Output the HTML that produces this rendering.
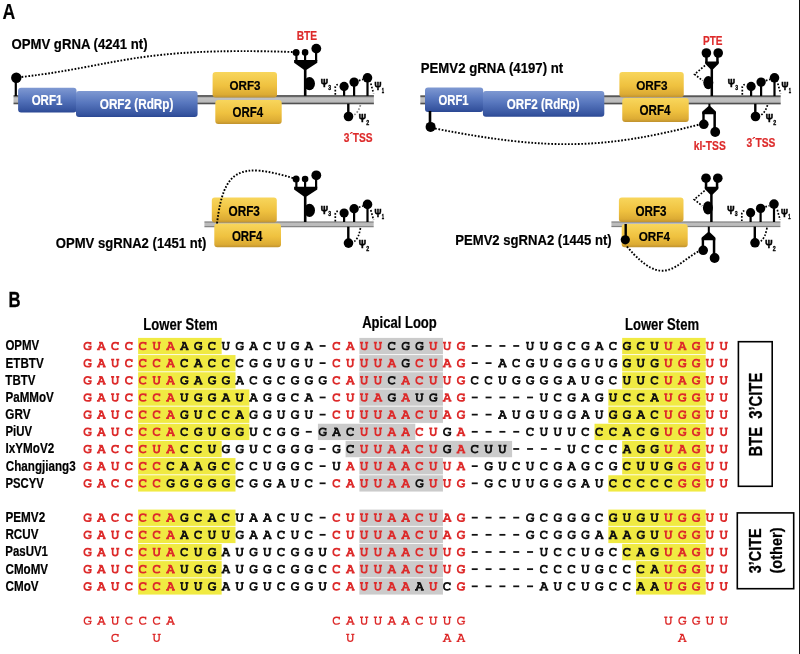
<!DOCTYPE html>
<html><head><meta charset="utf-8"><style>
html,body{margin:0;padding:0;background:#fff;width:800px;height:654px;overflow:hidden}
svg{display:block;will-change:transform}
.t{font-family:"Liberation Sans",sans-serif;font-weight:bold}
.p{font-family:"Liberation Sans",sans-serif;font-weight:bold}
.sq{font-family:"Liberation Mono",monospace;font-weight:bold;font-size:12.00px;text-anchor:middle;stroke-width:0.000px}
</style></head><body>
<svg width="800" height="654" viewBox="0 0 800 654">
<defs>
<path id="gU" d="M-4.1,-7.67H-1.0M-2.5,-7.67V-3.0C-2.5,-1.4 -1.5,-0.72 0,-0.72C1.5,-0.72 2.5,-1.4 2.5,-3.0V-7.67M1.0,-7.67H4.1" fill="none"/>
<path id="gC" d="M2.85,-8.1V-5.4M2.85,-6.9C2.1,-7.45 1.2,-7.67 0.2,-7.67C-1.9,-7.67 -3.17,-6.0 -3.17,-4.2C-3.17,-2.2 -1.8,-0.72 0.3,-0.72C1.4,-0.72 2.4,-1.0 3.3,-1.9" fill="none"/>
<path id="gG" d="M3.0,-8.1V-5.5M3.0,-6.9C2.2,-7.45 1.2,-7.67 0.1,-7.67C-2.1,-7.67 -3.2,-6.0 -3.2,-4.2C-3.2,-2.2 -1.9,-0.72 0.3,-0.72C1.5,-0.72 2.4,-0.95 3.0,-1.4V-3.5M0.7,-3.5H4.2" fill="none"/>
<path id="gA" d="M-2.3,-7.67H0.5M-0.1,-7.67L-3.0,-0.72M0.45,-8.1L3.2,-0.72M-2.0,-2.9H2.1M-4.4,-0.72H-1.5M1.5,-0.72H4.4" fill="none"/>
<path id="gD" d="M-3.0,-4.25H3.0" fill="none"/>
<linearGradient id="gb" x1="0" y1="0" x2="0" y2="1"><stop offset="0" stop-color="#7f99d2"/><stop offset="0.45" stop-color="#5877be"/><stop offset="0.9" stop-color="#36549f"/><stop offset="1" stop-color="#2a4793"/></linearGradient>
<linearGradient id="gy" x1="0" y1="0" x2="0" y2="1"><stop offset="0" stop-color="#f8d65c"/><stop offset="0.55" stop-color="#efc13f"/><stop offset="0.88" stop-color="#dcab34"/><stop offset="1" stop-color="#c0922e"/></linearGradient>
<linearGradient id="gk" x1="0" y1="0" x2="0" y2="1"><stop offset="0" stop-color="#555"/><stop offset="0.12" stop-color="#4e4e4e"/><stop offset="0.24" stop-color="#a9a9a9"/><stop offset="0.36" stop-color="#c1c1c1"/><stop offset="0.7" stop-color="#bbb"/><stop offset="0.8" stop-color="#999"/><stop offset="0.9" stop-color="#505050"/><stop offset="1" stop-color="#5a5a5a"/></linearGradient>
<linearGradient id="gk2" x1="0" y1="0" x2="0" y2="1"><stop offset="0" stop-color="#666"/><stop offset="0.3" stop-color="#bcbcbc"/><stop offset="0.7" stop-color="#bcbcbc"/><stop offset="1" stop-color="#606060"/></linearGradient>
</defs>
<rect width="800" height="654" fill="#fff"/>
<text class="t" x="2.59" y="19.08" font-size="22.02" textLength="12.76" lengthAdjust="spacingAndGlyphs" fill="#000" stroke="#000" stroke-width="0.15">A</text>
<text class="t" x="11.46" y="49.00" font-size="15.33" textLength="136.19" lengthAdjust="spacingAndGlyphs" fill="#000" stroke="#000" stroke-width="0.20">OPMV gRNA (4241 nt)</text>
<path d="M21.5,77 C118.6,65.7 135.3,46.8 292.5,52" fill="none" stroke="#000" stroke-width="1.90" stroke-dasharray="1.7 1.65"/>
<rect x="13.50" y="95.10" width="360.40" height="9.20" fill="url(#gk)"/>
<rect x="14.70" y="80.00" width="2.20" height="16.00"/>
<circle cx="16.30" cy="77.80" r="5.20"/>
<rect x="18.10" y="87.75" width="58.40" height="24.75" rx="3" fill="url(#gb)"/>
<rect x="76.00" y="91.00" width="121.60" height="26.00" rx="3" fill="url(#gb)"/>
<rect x="212.60" y="72.00" width="64.40" height="25.60" rx="3" fill="url(#gy)"/>
<rect x="215.30" y="99.90" width="66.40" height="24.10" rx="3" fill="url(#gy)"/>
<text class="t" x="31.68" y="105.25" font-size="13.95" textLength="30.64" lengthAdjust="spacingAndGlyphs" fill="#fff" stroke="#fff" stroke-width="0.20">ORF1</text>
<text class="t" x="99.77" y="109.25" font-size="13.95" textLength="73.56" lengthAdjust="spacingAndGlyphs" fill="#fff" stroke="#fff" stroke-width="0.20">ORF2 (RdRp)</text>
<text class="t" x="229.47" y="89.85" font-size="13.37" textLength="31.00" lengthAdjust="spacingAndGlyphs" fill="#000" stroke="#000" stroke-width="0.20">ORF3</text>
<text class="t" x="232.48" y="116.75" font-size="13.95" textLength="30.63" lengthAdjust="spacingAndGlyphs" fill="#000" stroke="#000" stroke-width="0.20">ORF4</text>
<circle cx="296.10" cy="52.40" r="3.50"/>
<circle cx="305.10" cy="52.40" r="3.30"/>
<circle cx="316.30" cy="48.60" r="4.90"/>
<rect x="295.30" y="52.00" width="2.20" height="9.00"/>
<rect x="304.00" y="52.00" width="2.20" height="9.00"/>
<rect x="315.00" y="50.00" width="2.20" height="11.00"/>
<path d="M294.10,60.00 H317.30 V62.80 L306.60,69.80 H303.90 L294.10,62.80 Z"/>
<rect x="303.90" y="68.00" width="2.60" height="27.90"/>
<ellipse cx="309.50" cy="83.60" rx="5.5" ry="6.6"/>
<text class="t" x="296.67" y="39.85" font-size="13.23" textLength="20.38" lengthAdjust="spacingAndGlyphs" fill="#dd2a2a" stroke="#dd2a2a" stroke-width="0.20">BTE</text>
<rect x="343.00" y="86.40" width="2.20" height="9.50"/>
<circle cx="344.10" cy="86.40" r="4.60"/>
<rect x="353.00" y="82.10" width="2.20" height="13.80"/>
<circle cx="354.10" cy="82.10" r="4.70"/>
<rect x="366.40" y="77.80" width="2.20" height="18.10"/>
<circle cx="367.50" cy="77.80" r="4.80"/>
<path d="M335.30,94.80 V87.00 Q335.50,84.60 339.30,84.20" fill="none" stroke="#000" stroke-width="1.70" stroke-dasharray="1.7 1.65"/>
<path d="M358.80,80.60 L363.00,79.40" fill="none" stroke="#000" stroke-width="1.70" stroke-dasharray="1.7 1.65"/>
<path d="M370.80,83.50 L373.60,93.50" fill="none" stroke="#000" stroke-width="1.70" stroke-dasharray="1.7 1.65"/>
<rect x="347.10" y="103.70" width="2.40" height="12.30"/>
<circle cx="348.50" cy="116.50" r="4.80"/>
<path d="M354.30,114.90 Q358.80,111.50 360.50,104.80" fill="none" stroke="#8a8a8a" stroke-width="1.70" stroke-dasharray="1.7 1.65"/>
<text class="t" x="320.83" y="87.25" font-size="11.05" textLength="7.24" lengthAdjust="spacingAndGlyphs" fill="#000" stroke="#000" stroke-width="0.60">Ψ</text>
<text class="t" x="328.21" y="89.67" font-size="6.61" textLength="2.85" lengthAdjust="spacingAndGlyphs" fill="#000" stroke="#000" stroke-width="0.35">3</text>
<text class="t" x="374.55" y="90.35" font-size="11.34" textLength="6.90" lengthAdjust="spacingAndGlyphs" fill="#000" stroke="#000" stroke-width="0.60">Ψ</text>
<text class="t" x="381.86" y="92.58" font-size="6.32" textLength="2.33" lengthAdjust="spacingAndGlyphs" fill="#000" stroke="#000" stroke-width="0.35">1</text>
<text class="t" x="358.83" y="121.85" font-size="11.05" textLength="7.24" lengthAdjust="spacingAndGlyphs" fill="#000" stroke="#000" stroke-width="0.60">Ψ</text>
<text class="t" x="366.14" y="124.67" font-size="6.47" textLength="2.95" lengthAdjust="spacingAndGlyphs" fill="#000" stroke="#000" stroke-width="0.35">2</text>
<text class="t" x="343.77" y="141.85" font-size="12.65" textLength="28.88" lengthAdjust="spacingAndGlyphs" fill="#dd2a2a" stroke="#dd2a2a" stroke-width="0.20">3´TSS</text>
<text class="t" x="420.77" y="72.75" font-size="14.97" textLength="142.39" lengthAdjust="spacingAndGlyphs" fill="#000" stroke="#000" stroke-width="0.20">PEMV2 gRNA (4197) nt</text>
<rect x="420.30" y="95.30" width="360.40" height="9.10" fill="url(#gk)"/>
<rect x="425.00" y="87.50" width="58.20" height="24.40" rx="3" fill="url(#gb)"/>
<rect x="482.90" y="90.90" width="121.40" height="25.90" rx="3" fill="url(#gb)"/>
<rect x="619.40" y="71.90" width="64.35" height="25.35" rx="3" fill="url(#gy)"/>
<rect x="622.25" y="98.10" width="66.50" height="23.80" rx="3" fill="url(#gy)"/>
<text class="t" x="438.54" y="105.25" font-size="13.95" textLength="30.03" lengthAdjust="spacingAndGlyphs" fill="#fff" stroke="#fff" stroke-width="0.20">ORF1</text>
<text class="t" x="506.77" y="109.25" font-size="14.24" textLength="72.80" lengthAdjust="spacingAndGlyphs" fill="#fff" stroke="#fff" stroke-width="0.20">ORF2 (RdRp)</text>
<text class="t" x="636.17" y="89.85" font-size="13.66" textLength="31.31" lengthAdjust="spacingAndGlyphs" fill="#000" stroke="#000" stroke-width="0.20">ORF3</text>
<text class="t" x="639.47" y="114.75" font-size="14.10" textLength="31.04" lengthAdjust="spacingAndGlyphs" fill="#000" stroke="#000" stroke-width="0.20">ORF4</text>
<rect x="428.70" y="111.00" width="2.60" height="13.00"/>
<circle cx="430.60" cy="126.90" r="5.00"/>
<path d="M435,128.5 C550.2,151.2 605.2,148.7 699.5,124.5" fill="none" stroke="#000" stroke-width="1.90" stroke-dasharray="1.7 1.65"/>
<circle cx="706.40" cy="53.00" r="4.80"/>
<circle cx="718.20" cy="53.00" r="4.80"/>
<rect x="705.20" y="53.00" width="2.50" height="10.00"/>
<rect x="716.20" y="53.00" width="2.50" height="10.00"/>
<path d="M705.20,61.60 H718.70 V63.80 L713.10,69.20 H710.60 L705.20,63.80 Z"/>
<rect x="710.55" y="66.00" width="2.50" height="30.10"/>
<ellipse cx="708.30" cy="82.60" rx="5" ry="6.6"/>
<path d="M705.00,65.50 L694.60,74.30 L702.60,80.60" fill="none" stroke="#000" stroke-width="1.70" stroke-dasharray="1.7 1.65"/>
<text class="t" x="703.08" y="44.55" font-size="13.08" textLength="19.46" lengthAdjust="spacingAndGlyphs" fill="#dd2a2a" stroke="#dd2a2a" stroke-width="0.20">PTE</text>
<rect x="708.40" y="103.80" width="2.00" height="4.70"/>
<path d="M708.40,106.20 L710.40,106.20 L715.90,111.60 L715.90,114.20 L702.30,114.20 L702.30,111.60 Z"/>
<rect x="702.30" y="112.00" width="2.40" height="12.00"/>
<rect x="713.40" y="112.00" width="2.50" height="19.00"/>
<circle cx="703.80" cy="124.30" r="4.80"/>
<circle cx="715.20" cy="132.00" r="4.90"/>
<text class="t" x="693.78" y="149.75" font-size="12.35" textLength="31.97" lengthAdjust="spacingAndGlyphs" fill="#dd2a2a" stroke="#dd2a2a" stroke-width="0.20">kl-TSS</text>
<rect x="750.00" y="86.40" width="2.20" height="9.70"/>
<circle cx="751.10" cy="86.40" r="4.60"/>
<rect x="760.00" y="82.10" width="2.20" height="14.00"/>
<circle cx="761.10" cy="82.10" r="4.70"/>
<rect x="773.40" y="77.80" width="2.20" height="18.30"/>
<circle cx="774.50" cy="77.80" r="4.80"/>
<path d="M742.30,94.80 V87.00 Q742.50,84.60 746.30,84.20" fill="none" stroke="#000" stroke-width="1.70" stroke-dasharray="1.7 1.65"/>
<path d="M765.80,80.60 L770.00,79.40" fill="none" stroke="#000" stroke-width="1.70" stroke-dasharray="1.7 1.65"/>
<path d="M777.80,83.50 L780.60,93.50" fill="none" stroke="#000" stroke-width="1.70" stroke-dasharray="1.7 1.65"/>
<rect x="754.10" y="103.80" width="2.40" height="12.20"/>
<circle cx="755.50" cy="116.50" r="4.80"/>
<path d="M761.30,114.90 Q765.80,111.50 767.50,104.90" fill="none" stroke="#000" stroke-width="1.70" stroke-dasharray="1.7 1.65"/>
<text class="t" x="727.83" y="87.25" font-size="11.05" textLength="7.24" lengthAdjust="spacingAndGlyphs" fill="#000" stroke="#000" stroke-width="0.60">Ψ</text>
<text class="t" x="735.21" y="89.67" font-size="6.61" textLength="2.85" lengthAdjust="spacingAndGlyphs" fill="#000" stroke="#000" stroke-width="0.35">3</text>
<text class="t" x="781.55" y="90.35" font-size="11.34" textLength="6.90" lengthAdjust="spacingAndGlyphs" fill="#000" stroke="#000" stroke-width="0.60">Ψ</text>
<text class="t" x="788.86" y="92.58" font-size="6.32" textLength="2.33" lengthAdjust="spacingAndGlyphs" fill="#000" stroke="#000" stroke-width="0.35">1</text>
<text class="t" x="765.83" y="121.85" font-size="11.05" textLength="7.24" lengthAdjust="spacingAndGlyphs" fill="#000" stroke="#000" stroke-width="0.60">Ψ</text>
<text class="t" x="773.14" y="124.67" font-size="6.47" textLength="2.95" lengthAdjust="spacingAndGlyphs" fill="#000" stroke="#000" stroke-width="0.35">2</text>
<text class="t" x="746.42" y="146.75" font-size="13.52" textLength="28.98" lengthAdjust="spacingAndGlyphs" fill="#dd2a2a" stroke="#dd2a2a" stroke-width="0.20">3´TSS</text>
<text class="t" x="55.71" y="248.15" font-size="15.55" textLength="150.69" lengthAdjust="spacingAndGlyphs" fill="#000" stroke="#000" stroke-width="0.20">OPMV sgRNA2 (1451 nt)</text>
<rect x="204.40" y="221.50" width="169.30" height="5.70" fill="url(#gk2)"/>
<rect x="211.80" y="197.40" width="65.00" height="25.20" rx="3" fill="url(#gy)"/>
<rect x="214.30" y="223.50" width="66.70" height="23.80" rx="3" fill="url(#gy)"/>
<text class="t" x="228.47" y="215.55" font-size="13.81" textLength="31.41" lengthAdjust="spacingAndGlyphs" fill="#000" stroke="#000" stroke-width="0.20">ORF3</text>
<text class="t" x="231.88" y="240.75" font-size="14.39" textLength="30.63" lengthAdjust="spacingAndGlyphs" fill="#000" stroke="#000" stroke-width="0.20">ORF4</text>
<path d="M217,223.5 C223.5,168.5 239.7,161.9 294.5,178.5" fill="none" stroke="#000" stroke-width="1.90" stroke-dasharray="1.7 1.65"/>
<circle cx="296.10" cy="179.10" r="3.50"/>
<circle cx="305.10" cy="179.10" r="3.30"/>
<circle cx="316.30" cy="175.30" r="4.90"/>
<rect x="295.30" y="178.70" width="2.20" height="9.00"/>
<rect x="304.00" y="178.70" width="2.20" height="9.00"/>
<rect x="315.00" y="176.70" width="2.20" height="11.00"/>
<path d="M294.10,186.70 H317.30 V189.50 L306.60,196.50 H303.90 L294.10,189.50 Z"/>
<rect x="303.90" y="194.70" width="2.60" height="27.30"/>
<ellipse cx="309.50" cy="210.30" rx="5.5" ry="6.6"/>
<rect x="343.00" y="213.00" width="2.20" height="9.00"/>
<circle cx="344.10" cy="213.00" r="4.60"/>
<rect x="353.00" y="208.70" width="2.20" height="13.30"/>
<circle cx="354.10" cy="208.70" r="4.70"/>
<rect x="366.40" y="204.40" width="2.20" height="17.60"/>
<circle cx="367.50" cy="204.40" r="4.80"/>
<path d="M335.30,221.40 V213.60 Q335.50,211.20 339.30,210.80" fill="none" stroke="#000" stroke-width="1.70" stroke-dasharray="1.7 1.65"/>
<path d="M358.80,207.20 L363.00,206.00" fill="none" stroke="#000" stroke-width="1.70" stroke-dasharray="1.7 1.65"/>
<path d="M370.80,210.10 L373.60,220.10" fill="none" stroke="#000" stroke-width="1.70" stroke-dasharray="1.7 1.65"/>
<rect x="347.10" y="226.70" width="2.40" height="15.90"/>
<circle cx="348.50" cy="243.10" r="4.80"/>
<path d="M354.30,241.50 Q358.80,238.10 360.50,227.80" fill="none" stroke="#000" stroke-width="1.70" stroke-dasharray="1.7 1.65"/>
<text class="t" x="320.83" y="213.85" font-size="11.05" textLength="7.24" lengthAdjust="spacingAndGlyphs" fill="#000" stroke="#000" stroke-width="0.60">Ψ</text>
<text class="t" x="328.21" y="216.27" font-size="6.61" textLength="2.85" lengthAdjust="spacingAndGlyphs" fill="#000" stroke="#000" stroke-width="0.35">3</text>
<text class="t" x="374.55" y="216.95" font-size="11.34" textLength="6.90" lengthAdjust="spacingAndGlyphs" fill="#000" stroke="#000" stroke-width="0.60">Ψ</text>
<text class="t" x="381.86" y="219.17" font-size="6.32" textLength="2.33" lengthAdjust="spacingAndGlyphs" fill="#000" stroke="#000" stroke-width="0.35">1</text>
<text class="t" x="358.83" y="248.45" font-size="11.05" textLength="7.24" lengthAdjust="spacingAndGlyphs" fill="#000" stroke="#000" stroke-width="0.60">Ψ</text>
<text class="t" x="366.14" y="251.27" font-size="6.47" textLength="2.95" lengthAdjust="spacingAndGlyphs" fill="#000" stroke="#000" stroke-width="0.35">2</text>
<text class="t" x="455.27" y="244.95" font-size="15.41" textLength="156.38" lengthAdjust="spacingAndGlyphs" fill="#000" stroke="#000" stroke-width="0.20">PEMV2 sgRNA2 (1445 nt)</text>
<rect x="611.40" y="221.50" width="169.00" height="5.60" fill="url(#gk2)"/>
<rect x="618.90" y="197.60" width="64.60" height="24.40" rx="3" fill="url(#gy)"/>
<rect x="621.70" y="223.90" width="66.00" height="23.30" rx="3" fill="url(#gy)"/>
<text class="t" x="635.57" y="215.75" font-size="13.81" textLength="31.00" lengthAdjust="spacingAndGlyphs" fill="#000" stroke="#000" stroke-width="0.20">ORF3</text>
<text class="t" x="638.67" y="240.75" font-size="13.52" textLength="31.24" lengthAdjust="spacingAndGlyphs" fill="#000" stroke="#000" stroke-width="0.20">ORF4</text>
<rect x="624.50" y="224.00" width="2.40" height="14.00"/>
<circle cx="625.30" cy="239.80" r="4.60"/>
<path d="M626.9,246.5 C664.3,290.7 675.1,263.4 700,250.5" fill="none" stroke="#000" stroke-width="1.90" stroke-dasharray="1.7 1.65"/>
<circle cx="706.00" cy="178.20" r="4.80"/>
<circle cx="717.80" cy="178.20" r="4.80"/>
<rect x="704.80" y="178.20" width="2.50" height="10.00"/>
<rect x="715.80" y="178.20" width="2.50" height="10.00"/>
<path d="M704.80,186.80 H718.30 V189.00 L712.70,194.40 H710.20 L704.80,189.00 Z"/>
<rect x="710.15" y="191.20" width="2.50" height="30.80"/>
<ellipse cx="707.90" cy="207.80" rx="5" ry="6.6"/>
<path d="M704.60,190.70 L694.20,199.50 L702.20,205.80" fill="none" stroke="#000" stroke-width="1.70" stroke-dasharray="1.7 1.65"/>
<rect x="707.80" y="226.60" width="2.00" height="7.90"/>
<path d="M707.80,232.20 L709.80,232.20 L715.30,237.60 L715.30,240.20 L701.70,240.20 L701.70,237.60 Z"/>
<rect x="701.70" y="238.00" width="2.40" height="12.00"/>
<rect x="712.80" y="238.00" width="2.50" height="19.00"/>
<circle cx="703.20" cy="250.30" r="4.80"/>
<circle cx="714.60" cy="258.00" r="4.90"/>
<rect x="749.50" y="212.70" width="2.20" height="9.30"/>
<circle cx="750.60" cy="212.70" r="4.60"/>
<rect x="759.50" y="208.40" width="2.20" height="13.60"/>
<circle cx="760.60" cy="208.40" r="4.70"/>
<rect x="772.90" y="204.10" width="2.20" height="17.90"/>
<circle cx="774.00" cy="204.10" r="4.80"/>
<path d="M741.80,221.10 V213.30 Q742.00,210.90 745.80,210.50" fill="none" stroke="#000" stroke-width="1.70" stroke-dasharray="1.7 1.65"/>
<path d="M765.30,206.90 L769.50,205.70" fill="none" stroke="#000" stroke-width="1.70" stroke-dasharray="1.7 1.65"/>
<path d="M777.30,209.80 L780.10,219.80" fill="none" stroke="#000" stroke-width="1.70" stroke-dasharray="1.7 1.65"/>
<rect x="753.60" y="226.60" width="2.40" height="15.70"/>
<circle cx="755.00" cy="242.80" r="4.80"/>
<path d="M760.80,241.20 Q765.30,237.80 767.00,227.70" fill="none" stroke="#000" stroke-width="1.70" stroke-dasharray="1.7 1.65"/>
<text class="t" x="727.33" y="213.55" font-size="11.05" textLength="7.24" lengthAdjust="spacingAndGlyphs" fill="#000" stroke="#000" stroke-width="0.60">Ψ</text>
<text class="t" x="734.71" y="215.97" font-size="6.61" textLength="2.85" lengthAdjust="spacingAndGlyphs" fill="#000" stroke="#000" stroke-width="0.35">3</text>
<text class="t" x="781.05" y="216.65" font-size="11.34" textLength="6.90" lengthAdjust="spacingAndGlyphs" fill="#000" stroke="#000" stroke-width="0.60">Ψ</text>
<text class="t" x="788.36" y="218.87" font-size="6.32" textLength="2.33" lengthAdjust="spacingAndGlyphs" fill="#000" stroke="#000" stroke-width="0.35">1</text>
<text class="t" x="765.33" y="248.15" font-size="11.05" textLength="7.24" lengthAdjust="spacingAndGlyphs" fill="#000" stroke="#000" stroke-width="0.60">Ψ</text>
<text class="t" x="772.64" y="250.97" font-size="6.47" textLength="2.95" lengthAdjust="spacingAndGlyphs" fill="#000" stroke="#000" stroke-width="0.35">2</text>
<text class="t" x="8.38" y="306.60" font-size="21.51" textLength="12.08" lengthAdjust="spacingAndGlyphs" fill="#000" stroke="#000" stroke-width="0.30">B</text>
<rect x="138.12" y="337.90" width="83.55" height="16.30" fill="#f0ea42"/>
<rect x="359.40" y="337.90" width="83.55" height="16.30" fill="#cbcbcb"/>
<rect x="622.17" y="337.90" width="83.55" height="16.30" fill="#f0ea42"/>
<rect x="138.12" y="355.07" width="97.38" height="16.30" fill="#f0ea42"/>
<rect x="359.40" y="355.07" width="83.55" height="16.30" fill="#cbcbcb"/>
<rect x="622.17" y="355.07" width="83.55" height="16.30" fill="#f0ea42"/>
<rect x="138.12" y="372.24" width="97.38" height="16.30" fill="#f0ea42"/>
<rect x="359.40" y="372.24" width="83.55" height="16.30" fill="#cbcbcb"/>
<rect x="622.17" y="372.24" width="83.55" height="16.30" fill="#f0ea42"/>
<rect x="138.12" y="389.41" width="111.21" height="16.30" fill="#f0ea42"/>
<rect x="359.40" y="389.41" width="83.55" height="16.30" fill="#cbcbcb"/>
<rect x="608.34" y="389.41" width="97.38" height="16.30" fill="#f0ea42"/>
<rect x="138.12" y="406.58" width="111.21" height="16.30" fill="#f0ea42"/>
<rect x="359.40" y="406.58" width="83.55" height="16.30" fill="#cbcbcb"/>
<rect x="608.34" y="406.58" width="97.38" height="16.30" fill="#f0ea42"/>
<rect x="138.12" y="423.75" width="111.21" height="16.30" fill="#f0ea42"/>
<rect x="317.91" y="423.75" width="97.38" height="16.30" fill="#cbcbcb"/>
<rect x="594.51" y="423.75" width="111.21" height="16.30" fill="#f0ea42"/>
<rect x="138.12" y="440.92" width="83.55" height="16.30" fill="#f0ea42"/>
<rect x="345.57" y="440.92" width="166.53" height="16.30" fill="#cbcbcb"/>
<rect x="622.17" y="440.92" width="83.55" height="16.30" fill="#f0ea42"/>
<rect x="138.12" y="458.09" width="97.38" height="16.30" fill="#f0ea42"/>
<rect x="359.40" y="458.09" width="83.55" height="16.30" fill="#cbcbcb"/>
<rect x="622.17" y="458.09" width="83.55" height="16.30" fill="#f0ea42"/>
<rect x="138.12" y="475.26" width="97.38" height="16.30" fill="#f0ea42"/>
<rect x="359.40" y="475.26" width="83.55" height="16.30" fill="#cbcbcb"/>
<rect x="608.34" y="475.26" width="97.38" height="16.30" fill="#f0ea42"/>
<rect x="138.12" y="509.60" width="97.38" height="16.30" fill="#f0ea42"/>
<rect x="359.40" y="509.60" width="83.55" height="16.30" fill="#cbcbcb"/>
<rect x="608.34" y="509.60" width="97.38" height="16.30" fill="#f0ea42"/>
<rect x="138.12" y="526.77" width="97.38" height="16.30" fill="#f0ea42"/>
<rect x="359.40" y="526.77" width="83.55" height="16.30" fill="#cbcbcb"/>
<rect x="608.34" y="526.77" width="97.38" height="16.30" fill="#f0ea42"/>
<rect x="138.12" y="543.94" width="83.55" height="16.30" fill="#f0ea42"/>
<rect x="359.40" y="543.94" width="83.55" height="16.30" fill="#cbcbcb"/>
<rect x="622.17" y="543.94" width="83.55" height="16.30" fill="#f0ea42"/>
<rect x="138.12" y="561.11" width="83.55" height="16.30" fill="#f0ea42"/>
<rect x="359.40" y="561.11" width="83.55" height="16.30" fill="#cbcbcb"/>
<rect x="636.00" y="561.11" width="69.72" height="16.30" fill="#f0ea42"/>
<rect x="138.12" y="578.28" width="83.55" height="16.30" fill="#f0ea42"/>
<rect x="359.40" y="578.28" width="83.55" height="16.30" fill="#cbcbcb"/>
<rect x="636.00" y="578.28" width="69.72" height="16.30" fill="#f0ea42"/>
<g stroke="#dd2a2a" stroke-width="1.75"><use href="#gG" x="87.50" y="350.20"/><use href="#gA" x="101.33" y="350.20"/><use href="#gC" x="115.16" y="350.20"/><use href="#gC" x="128.99" y="350.20"/><use href="#gC" x="142.82" y="350.20"/><use href="#gU" x="156.65" y="350.20"/><use href="#gA" x="170.48" y="350.20"/><use href="#gC" x="336.44" y="350.20"/><use href="#gA" x="350.27" y="350.20"/><use href="#gU" x="364.10" y="350.20"/><use href="#gU" x="377.93" y="350.20"/><use href="#gU" x="433.25" y="350.20"/><use href="#gU" x="447.08" y="350.20"/><use href="#gG" x="460.91" y="350.20"/><use href="#gU" x="668.36" y="350.20"/><use href="#gA" x="682.19" y="350.20"/><use href="#gG" x="696.02" y="350.20"/><use href="#gU" x="709.85" y="350.20"/><use href="#gU" x="723.68" y="350.20"/></g>
<g stroke="#111" stroke-width="1.75"><use href="#gA" x="184.31" y="350.20"/><use href="#gG" x="198.14" y="350.20"/><use href="#gC" x="211.97" y="350.20"/><use href="#gU" x="225.80" y="350.20"/><use href="#gG" x="239.63" y="350.20"/><use href="#gA" x="253.46" y="350.20"/><use href="#gC" x="267.29" y="350.20"/><use href="#gU" x="281.12" y="350.20"/><use href="#gG" x="294.95" y="350.20"/><use href="#gA" x="308.78" y="350.20"/><use href="#gD" x="322.61" y="350.20"/><use href="#gC" x="391.76" y="350.20"/><use href="#gG" x="405.59" y="350.20"/><use href="#gG" x="419.42" y="350.20"/><use href="#gD" x="474.74" y="350.20"/><use href="#gD" x="488.57" y="350.20"/><use href="#gD" x="502.40" y="350.20"/><use href="#gD" x="516.23" y="350.20"/><use href="#gU" x="530.06" y="350.20"/><use href="#gU" x="543.89" y="350.20"/><use href="#gG" x="557.72" y="350.20"/><use href="#gC" x="571.55" y="350.20"/><use href="#gG" x="585.38" y="350.20"/><use href="#gA" x="599.21" y="350.20"/><use href="#gC" x="613.04" y="350.20"/><use href="#gG" x="626.87" y="350.20"/><use href="#gC" x="640.70" y="350.20"/><use href="#gU" x="654.53" y="350.20"/></g>
<g stroke="#dd2a2a" stroke-width="1.75"><use href="#gG" x="87.50" y="367.37"/><use href="#gA" x="101.33" y="367.37"/><use href="#gU" x="115.16" y="367.37"/><use href="#gC" x="128.99" y="367.37"/><use href="#gC" x="142.82" y="367.37"/><use href="#gC" x="156.65" y="367.37"/><use href="#gA" x="170.48" y="367.37"/><use href="#gC" x="336.44" y="367.37"/><use href="#gU" x="350.27" y="367.37"/><use href="#gU" x="364.10" y="367.37"/><use href="#gU" x="377.93" y="367.37"/><use href="#gA" x="391.76" y="367.37"/><use href="#gC" x="419.42" y="367.37"/><use href="#gU" x="433.25" y="367.37"/><use href="#gA" x="447.08" y="367.37"/><use href="#gG" x="460.91" y="367.37"/><use href="#gU" x="668.36" y="367.37"/><use href="#gG" x="682.19" y="367.37"/><use href="#gG" x="696.02" y="367.37"/><use href="#gU" x="709.85" y="367.37"/><use href="#gU" x="723.68" y="367.37"/></g>
<g stroke="#111" stroke-width="1.75"><use href="#gC" x="184.31" y="367.37"/><use href="#gA" x="198.14" y="367.37"/><use href="#gC" x="211.97" y="367.37"/><use href="#gC" x="225.80" y="367.37"/><use href="#gC" x="239.63" y="367.37"/><use href="#gG" x="253.46" y="367.37"/><use href="#gG" x="267.29" y="367.37"/><use href="#gU" x="281.12" y="367.37"/><use href="#gG" x="294.95" y="367.37"/><use href="#gU" x="308.78" y="367.37"/><use href="#gD" x="322.61" y="367.37"/><use href="#gG" x="405.59" y="367.37"/><use href="#gD" x="474.74" y="367.37"/><use href="#gD" x="488.57" y="367.37"/><use href="#gA" x="502.40" y="367.37"/><use href="#gC" x="516.23" y="367.37"/><use href="#gG" x="530.06" y="367.37"/><use href="#gU" x="543.89" y="367.37"/><use href="#gG" x="557.72" y="367.37"/><use href="#gG" x="571.55" y="367.37"/><use href="#gG" x="585.38" y="367.37"/><use href="#gU" x="599.21" y="367.37"/><use href="#gG" x="613.04" y="367.37"/><use href="#gG" x="626.87" y="367.37"/><use href="#gU" x="640.70" y="367.37"/><use href="#gG" x="654.53" y="367.37"/></g>
<g stroke="#dd2a2a" stroke-width="1.75"><use href="#gG" x="87.50" y="384.54"/><use href="#gA" x="101.33" y="384.54"/><use href="#gU" x="115.16" y="384.54"/><use href="#gC" x="128.99" y="384.54"/><use href="#gC" x="142.82" y="384.54"/><use href="#gU" x="156.65" y="384.54"/><use href="#gA" x="170.48" y="384.54"/><use href="#gC" x="336.44" y="384.54"/><use href="#gA" x="350.27" y="384.54"/><use href="#gU" x="364.10" y="384.54"/><use href="#gU" x="377.93" y="384.54"/><use href="#gA" x="405.59" y="384.54"/><use href="#gC" x="419.42" y="384.54"/><use href="#gU" x="433.25" y="384.54"/><use href="#gU" x="447.08" y="384.54"/><use href="#gG" x="460.91" y="384.54"/><use href="#gU" x="668.36" y="384.54"/><use href="#gA" x="682.19" y="384.54"/><use href="#gG" x="696.02" y="384.54"/><use href="#gU" x="709.85" y="384.54"/><use href="#gU" x="723.68" y="384.54"/></g>
<g stroke="#111" stroke-width="1.75"><use href="#gG" x="184.31" y="384.54"/><use href="#gA" x="198.14" y="384.54"/><use href="#gG" x="211.97" y="384.54"/><use href="#gG" x="225.80" y="384.54"/><use href="#gA" x="239.63" y="384.54"/><use href="#gC" x="253.46" y="384.54"/><use href="#gG" x="267.29" y="384.54"/><use href="#gC" x="281.12" y="384.54"/><use href="#gG" x="294.95" y="384.54"/><use href="#gG" x="308.78" y="384.54"/><use href="#gG" x="322.61" y="384.54"/><use href="#gC" x="391.76" y="384.54"/><use href="#gC" x="474.74" y="384.54"/><use href="#gC" x="488.57" y="384.54"/><use href="#gU" x="502.40" y="384.54"/><use href="#gG" x="516.23" y="384.54"/><use href="#gG" x="530.06" y="384.54"/><use href="#gG" x="543.89" y="384.54"/><use href="#gG" x="557.72" y="384.54"/><use href="#gA" x="571.55" y="384.54"/><use href="#gU" x="585.38" y="384.54"/><use href="#gG" x="599.21" y="384.54"/><use href="#gC" x="613.04" y="384.54"/><use href="#gU" x="626.87" y="384.54"/><use href="#gU" x="640.70" y="384.54"/><use href="#gC" x="654.53" y="384.54"/></g>
<g stroke="#dd2a2a" stroke-width="1.75"><use href="#gG" x="87.50" y="401.71"/><use href="#gA" x="101.33" y="401.71"/><use href="#gU" x="115.16" y="401.71"/><use href="#gC" x="128.99" y="401.71"/><use href="#gC" x="142.82" y="401.71"/><use href="#gC" x="156.65" y="401.71"/><use href="#gA" x="170.48" y="401.71"/><use href="#gC" x="336.44" y="401.71"/><use href="#gU" x="350.27" y="401.71"/><use href="#gU" x="364.10" y="401.71"/><use href="#gA" x="377.93" y="401.71"/><use href="#gA" x="405.59" y="401.71"/><use href="#gA" x="447.08" y="401.71"/><use href="#gG" x="460.91" y="401.71"/><use href="#gU" x="668.36" y="401.71"/><use href="#gG" x="682.19" y="401.71"/><use href="#gG" x="696.02" y="401.71"/><use href="#gU" x="709.85" y="401.71"/><use href="#gU" x="723.68" y="401.71"/></g>
<g stroke="#111" stroke-width="1.75"><use href="#gU" x="184.31" y="401.71"/><use href="#gG" x="198.14" y="401.71"/><use href="#gG" x="211.97" y="401.71"/><use href="#gA" x="225.80" y="401.71"/><use href="#gU" x="239.63" y="401.71"/><use href="#gA" x="253.46" y="401.71"/><use href="#gG" x="267.29" y="401.71"/><use href="#gG" x="281.12" y="401.71"/><use href="#gC" x="294.95" y="401.71"/><use href="#gA" x="308.78" y="401.71"/><use href="#gD" x="322.61" y="401.71"/><use href="#gG" x="391.76" y="401.71"/><use href="#gU" x="419.42" y="401.71"/><use href="#gG" x="433.25" y="401.71"/><use href="#gD" x="474.74" y="401.71"/><use href="#gD" x="488.57" y="401.71"/><use href="#gD" x="502.40" y="401.71"/><use href="#gD" x="516.23" y="401.71"/><use href="#gD" x="530.06" y="401.71"/><use href="#gU" x="543.89" y="401.71"/><use href="#gC" x="557.72" y="401.71"/><use href="#gG" x="571.55" y="401.71"/><use href="#gA" x="585.38" y="401.71"/><use href="#gG" x="599.21" y="401.71"/><use href="#gU" x="613.04" y="401.71"/><use href="#gC" x="626.87" y="401.71"/><use href="#gC" x="640.70" y="401.71"/><use href="#gA" x="654.53" y="401.71"/></g>
<g stroke="#dd2a2a" stroke-width="1.75"><use href="#gG" x="87.50" y="418.88"/><use href="#gA" x="101.33" y="418.88"/><use href="#gU" x="115.16" y="418.88"/><use href="#gC" x="128.99" y="418.88"/><use href="#gC" x="142.82" y="418.88"/><use href="#gC" x="156.65" y="418.88"/><use href="#gA" x="170.48" y="418.88"/><use href="#gC" x="336.44" y="418.88"/><use href="#gU" x="350.27" y="418.88"/><use href="#gU" x="364.10" y="418.88"/><use href="#gU" x="377.93" y="418.88"/><use href="#gA" x="391.76" y="418.88"/><use href="#gA" x="405.59" y="418.88"/><use href="#gC" x="419.42" y="418.88"/><use href="#gU" x="433.25" y="418.88"/><use href="#gA" x="447.08" y="418.88"/><use href="#gG" x="460.91" y="418.88"/><use href="#gU" x="668.36" y="418.88"/><use href="#gG" x="682.19" y="418.88"/><use href="#gG" x="696.02" y="418.88"/><use href="#gU" x="709.85" y="418.88"/><use href="#gU" x="723.68" y="418.88"/></g>
<g stroke="#111" stroke-width="1.75"><use href="#gG" x="184.31" y="418.88"/><use href="#gU" x="198.14" y="418.88"/><use href="#gC" x="211.97" y="418.88"/><use href="#gC" x="225.80" y="418.88"/><use href="#gA" x="239.63" y="418.88"/><use href="#gG" x="253.46" y="418.88"/><use href="#gG" x="267.29" y="418.88"/><use href="#gU" x="281.12" y="418.88"/><use href="#gG" x="294.95" y="418.88"/><use href="#gU" x="308.78" y="418.88"/><use href="#gD" x="322.61" y="418.88"/><use href="#gD" x="474.74" y="418.88"/><use href="#gD" x="488.57" y="418.88"/><use href="#gA" x="502.40" y="418.88"/><use href="#gU" x="516.23" y="418.88"/><use href="#gG" x="530.06" y="418.88"/><use href="#gU" x="543.89" y="418.88"/><use href="#gG" x="557.72" y="418.88"/><use href="#gG" x="571.55" y="418.88"/><use href="#gA" x="585.38" y="418.88"/><use href="#gU" x="599.21" y="418.88"/><use href="#gG" x="613.04" y="418.88"/><use href="#gG" x="626.87" y="418.88"/><use href="#gA" x="640.70" y="418.88"/><use href="#gC" x="654.53" y="418.88"/></g>
<g stroke="#dd2a2a" stroke-width="1.75"><use href="#gG" x="87.50" y="436.05"/><use href="#gA" x="101.33" y="436.05"/><use href="#gU" x="115.16" y="436.05"/><use href="#gC" x="128.99" y="436.05"/><use href="#gC" x="142.82" y="436.05"/><use href="#gC" x="156.65" y="436.05"/><use href="#gA" x="170.48" y="436.05"/><use href="#gU" x="364.10" y="436.05"/><use href="#gU" x="377.93" y="436.05"/><use href="#gA" x="391.76" y="436.05"/><use href="#gA" x="405.59" y="436.05"/><use href="#gC" x="419.42" y="436.05"/><use href="#gU" x="433.25" y="436.05"/><use href="#gA" x="460.91" y="436.05"/><use href="#gU" x="668.36" y="436.05"/><use href="#gG" x="682.19" y="436.05"/><use href="#gG" x="696.02" y="436.05"/><use href="#gU" x="709.85" y="436.05"/><use href="#gU" x="723.68" y="436.05"/></g>
<g stroke="#111" stroke-width="1.75"><use href="#gC" x="184.31" y="436.05"/><use href="#gG" x="198.14" y="436.05"/><use href="#gU" x="211.97" y="436.05"/><use href="#gG" x="225.80" y="436.05"/><use href="#gG" x="239.63" y="436.05"/><use href="#gU" x="253.46" y="436.05"/><use href="#gC" x="267.29" y="436.05"/><use href="#gG" x="281.12" y="436.05"/><use href="#gG" x="294.95" y="436.05"/><use href="#gD" x="308.78" y="436.05"/><use href="#gG" x="322.61" y="436.05"/><use href="#gA" x="336.44" y="436.05"/><use href="#gC" x="350.27" y="436.05"/><use href="#gG" x="447.08" y="436.05"/><use href="#gD" x="474.74" y="436.05"/><use href="#gD" x="488.57" y="436.05"/><use href="#gD" x="502.40" y="436.05"/><use href="#gD" x="516.23" y="436.05"/><use href="#gC" x="530.06" y="436.05"/><use href="#gU" x="543.89" y="436.05"/><use href="#gU" x="557.72" y="436.05"/><use href="#gU" x="571.55" y="436.05"/><use href="#gC" x="585.38" y="436.05"/><use href="#gC" x="599.21" y="436.05"/><use href="#gC" x="613.04" y="436.05"/><use href="#gA" x="626.87" y="436.05"/><use href="#gC" x="640.70" y="436.05"/><use href="#gG" x="654.53" y="436.05"/></g>
<g stroke="#dd2a2a" stroke-width="1.75"><use href="#gG" x="87.50" y="453.22"/><use href="#gA" x="101.33" y="453.22"/><use href="#gC" x="115.16" y="453.22"/><use href="#gC" x="128.99" y="453.22"/><use href="#gC" x="142.82" y="453.22"/><use href="#gU" x="156.65" y="453.22"/><use href="#gA" x="170.48" y="453.22"/><use href="#gU" x="364.10" y="453.22"/><use href="#gU" x="377.93" y="453.22"/><use href="#gA" x="391.76" y="453.22"/><use href="#gA" x="405.59" y="453.22"/><use href="#gC" x="419.42" y="453.22"/><use href="#gU" x="433.25" y="453.22"/><use href="#gA" x="460.91" y="453.22"/><use href="#gU" x="668.36" y="453.22"/><use href="#gA" x="682.19" y="453.22"/><use href="#gG" x="696.02" y="453.22"/><use href="#gU" x="709.85" y="453.22"/><use href="#gU" x="723.68" y="453.22"/></g>
<g stroke="#111" stroke-width="1.75"><use href="#gC" x="184.31" y="453.22"/><use href="#gC" x="198.14" y="453.22"/><use href="#gU" x="211.97" y="453.22"/><use href="#gG" x="225.80" y="453.22"/><use href="#gG" x="239.63" y="453.22"/><use href="#gU" x="253.46" y="453.22"/><use href="#gC" x="267.29" y="453.22"/><use href="#gG" x="281.12" y="453.22"/><use href="#gG" x="294.95" y="453.22"/><use href="#gG" x="308.78" y="453.22"/><use href="#gD" x="322.61" y="453.22"/><use href="#gG" x="336.44" y="453.22"/><use href="#gC" x="350.27" y="453.22"/><use href="#gG" x="447.08" y="453.22"/><use href="#gC" x="474.74" y="453.22"/><use href="#gU" x="488.57" y="453.22"/><use href="#gU" x="502.40" y="453.22"/><use href="#gD" x="516.23" y="453.22"/><use href="#gD" x="530.06" y="453.22"/><use href="#gD" x="543.89" y="453.22"/><use href="#gD" x="557.72" y="453.22"/><use href="#gU" x="571.55" y="453.22"/><use href="#gC" x="585.38" y="453.22"/><use href="#gC" x="599.21" y="453.22"/><use href="#gC" x="613.04" y="453.22"/><use href="#gA" x="626.87" y="453.22"/><use href="#gG" x="640.70" y="453.22"/><use href="#gG" x="654.53" y="453.22"/></g>
<g stroke="#dd2a2a" stroke-width="1.75"><use href="#gG" x="87.50" y="470.39"/><use href="#gA" x="101.33" y="470.39"/><use href="#gU" x="115.16" y="470.39"/><use href="#gC" x="128.99" y="470.39"/><use href="#gC" x="142.82" y="470.39"/><use href="#gC" x="156.65" y="470.39"/><use href="#gA" x="350.27" y="470.39"/><use href="#gU" x="364.10" y="470.39"/><use href="#gU" x="377.93" y="470.39"/><use href="#gA" x="391.76" y="470.39"/><use href="#gA" x="405.59" y="470.39"/><use href="#gC" x="419.42" y="470.39"/><use href="#gU" x="433.25" y="470.39"/><use href="#gU" x="447.08" y="470.39"/><use href="#gA" x="460.91" y="470.39"/><use href="#gG" x="682.19" y="470.39"/><use href="#gG" x="696.02" y="470.39"/><use href="#gU" x="709.85" y="470.39"/><use href="#gU" x="723.68" y="470.39"/></g>
<g stroke="#111" stroke-width="1.75"><use href="#gC" x="170.48" y="470.39"/><use href="#gA" x="184.31" y="470.39"/><use href="#gA" x="198.14" y="470.39"/><use href="#gG" x="211.97" y="470.39"/><use href="#gC" x="225.80" y="470.39"/><use href="#gC" x="239.63" y="470.39"/><use href="#gC" x="253.46" y="470.39"/><use href="#gU" x="267.29" y="470.39"/><use href="#gG" x="281.12" y="470.39"/><use href="#gG" x="294.95" y="470.39"/><use href="#gC" x="308.78" y="470.39"/><use href="#gD" x="322.61" y="470.39"/><use href="#gU" x="336.44" y="470.39"/><use href="#gD" x="474.74" y="470.39"/><use href="#gG" x="488.57" y="470.39"/><use href="#gU" x="502.40" y="470.39"/><use href="#gC" x="516.23" y="470.39"/><use href="#gU" x="530.06" y="470.39"/><use href="#gC" x="543.89" y="470.39"/><use href="#gG" x="557.72" y="470.39"/><use href="#gA" x="571.55" y="470.39"/><use href="#gG" x="585.38" y="470.39"/><use href="#gC" x="599.21" y="470.39"/><use href="#gG" x="613.04" y="470.39"/><use href="#gC" x="626.87" y="470.39"/><use href="#gU" x="640.70" y="470.39"/><use href="#gU" x="654.53" y="470.39"/><use href="#gG" x="668.36" y="470.39"/></g>
<g stroke="#dd2a2a" stroke-width="1.75"><use href="#gG" x="87.50" y="487.56"/><use href="#gA" x="101.33" y="487.56"/><use href="#gC" x="115.16" y="487.56"/><use href="#gC" x="128.99" y="487.56"/><use href="#gC" x="142.82" y="487.56"/><use href="#gC" x="156.65" y="487.56"/><use href="#gC" x="336.44" y="487.56"/><use href="#gA" x="350.27" y="487.56"/><use href="#gU" x="364.10" y="487.56"/><use href="#gU" x="377.93" y="487.56"/><use href="#gA" x="391.76" y="487.56"/><use href="#gA" x="405.59" y="487.56"/><use href="#gU" x="433.25" y="487.56"/><use href="#gU" x="447.08" y="487.56"/><use href="#gG" x="460.91" y="487.56"/><use href="#gG" x="682.19" y="487.56"/><use href="#gG" x="696.02" y="487.56"/><use href="#gU" x="709.85" y="487.56"/><use href="#gU" x="723.68" y="487.56"/></g>
<g stroke="#111" stroke-width="1.75"><use href="#gG" x="170.48" y="487.56"/><use href="#gG" x="184.31" y="487.56"/><use href="#gG" x="198.14" y="487.56"/><use href="#gG" x="211.97" y="487.56"/><use href="#gG" x="225.80" y="487.56"/><use href="#gC" x="239.63" y="487.56"/><use href="#gG" x="253.46" y="487.56"/><use href="#gG" x="267.29" y="487.56"/><use href="#gA" x="281.12" y="487.56"/><use href="#gU" x="294.95" y="487.56"/><use href="#gC" x="308.78" y="487.56"/><use href="#gD" x="322.61" y="487.56"/><use href="#gG" x="419.42" y="487.56"/><use href="#gD" x="474.74" y="487.56"/><use href="#gG" x="488.57" y="487.56"/><use href="#gC" x="502.40" y="487.56"/><use href="#gU" x="516.23" y="487.56"/><use href="#gU" x="530.06" y="487.56"/><use href="#gG" x="543.89" y="487.56"/><use href="#gG" x="557.72" y="487.56"/><use href="#gG" x="571.55" y="487.56"/><use href="#gA" x="585.38" y="487.56"/><use href="#gU" x="599.21" y="487.56"/><use href="#gC" x="613.04" y="487.56"/><use href="#gC" x="626.87" y="487.56"/><use href="#gC" x="640.70" y="487.56"/><use href="#gC" x="654.53" y="487.56"/><use href="#gC" x="668.36" y="487.56"/></g>
<g stroke="#dd2a2a" stroke-width="1.75"><use href="#gG" x="87.50" y="521.90"/><use href="#gA" x="101.33" y="521.90"/><use href="#gC" x="115.16" y="521.90"/><use href="#gC" x="128.99" y="521.90"/><use href="#gC" x="142.82" y="521.90"/><use href="#gC" x="156.65" y="521.90"/><use href="#gA" x="170.48" y="521.90"/><use href="#gC" x="336.44" y="521.90"/><use href="#gU" x="350.27" y="521.90"/><use href="#gU" x="364.10" y="521.90"/><use href="#gU" x="377.93" y="521.90"/><use href="#gA" x="391.76" y="521.90"/><use href="#gA" x="405.59" y="521.90"/><use href="#gC" x="419.42" y="521.90"/><use href="#gU" x="433.25" y="521.90"/><use href="#gA" x="447.08" y="521.90"/><use href="#gG" x="460.91" y="521.90"/><use href="#gU" x="668.36" y="521.90"/><use href="#gG" x="682.19" y="521.90"/><use href="#gG" x="696.02" y="521.90"/><use href="#gU" x="709.85" y="521.90"/><use href="#gU" x="723.68" y="521.90"/></g>
<g stroke="#111" stroke-width="1.75"><use href="#gG" x="184.31" y="521.90"/><use href="#gC" x="198.14" y="521.90"/><use href="#gA" x="211.97" y="521.90"/><use href="#gC" x="225.80" y="521.90"/><use href="#gU" x="239.63" y="521.90"/><use href="#gA" x="253.46" y="521.90"/><use href="#gA" x="267.29" y="521.90"/><use href="#gC" x="281.12" y="521.90"/><use href="#gU" x="294.95" y="521.90"/><use href="#gC" x="308.78" y="521.90"/><use href="#gD" x="322.61" y="521.90"/><use href="#gD" x="474.74" y="521.90"/><use href="#gD" x="488.57" y="521.90"/><use href="#gD" x="502.40" y="521.90"/><use href="#gD" x="516.23" y="521.90"/><use href="#gG" x="530.06" y="521.90"/><use href="#gC" x="543.89" y="521.90"/><use href="#gG" x="557.72" y="521.90"/><use href="#gG" x="571.55" y="521.90"/><use href="#gG" x="585.38" y="521.90"/><use href="#gC" x="599.21" y="521.90"/><use href="#gG" x="613.04" y="521.90"/><use href="#gU" x="626.87" y="521.90"/><use href="#gG" x="640.70" y="521.90"/><use href="#gU" x="654.53" y="521.90"/></g>
<g stroke="#dd2a2a" stroke-width="1.75"><use href="#gG" x="87.50" y="539.07"/><use href="#gA" x="101.33" y="539.07"/><use href="#gU" x="115.16" y="539.07"/><use href="#gC" x="128.99" y="539.07"/><use href="#gC" x="142.82" y="539.07"/><use href="#gC" x="156.65" y="539.07"/><use href="#gA" x="170.48" y="539.07"/><use href="#gC" x="336.44" y="539.07"/><use href="#gU" x="350.27" y="539.07"/><use href="#gU" x="364.10" y="539.07"/><use href="#gU" x="377.93" y="539.07"/><use href="#gA" x="391.76" y="539.07"/><use href="#gA" x="405.59" y="539.07"/><use href="#gC" x="419.42" y="539.07"/><use href="#gU" x="433.25" y="539.07"/><use href="#gA" x="447.08" y="539.07"/><use href="#gG" x="460.91" y="539.07"/><use href="#gU" x="668.36" y="539.07"/><use href="#gG" x="682.19" y="539.07"/><use href="#gG" x="696.02" y="539.07"/><use href="#gU" x="709.85" y="539.07"/><use href="#gU" x="723.68" y="539.07"/></g>
<g stroke="#111" stroke-width="1.75"><use href="#gA" x="184.31" y="539.07"/><use href="#gC" x="198.14" y="539.07"/><use href="#gU" x="211.97" y="539.07"/><use href="#gU" x="225.80" y="539.07"/><use href="#gG" x="239.63" y="539.07"/><use href="#gA" x="253.46" y="539.07"/><use href="#gA" x="267.29" y="539.07"/><use href="#gC" x="281.12" y="539.07"/><use href="#gU" x="294.95" y="539.07"/><use href="#gC" x="308.78" y="539.07"/><use href="#gD" x="322.61" y="539.07"/><use href="#gD" x="474.74" y="539.07"/><use href="#gD" x="488.57" y="539.07"/><use href="#gD" x="502.40" y="539.07"/><use href="#gD" x="516.23" y="539.07"/><use href="#gG" x="530.06" y="539.07"/><use href="#gC" x="543.89" y="539.07"/><use href="#gG" x="557.72" y="539.07"/><use href="#gG" x="571.55" y="539.07"/><use href="#gG" x="585.38" y="539.07"/><use href="#gA" x="599.21" y="539.07"/><use href="#gA" x="613.04" y="539.07"/><use href="#gA" x="626.87" y="539.07"/><use href="#gG" x="640.70" y="539.07"/><use href="#gU" x="654.53" y="539.07"/></g>
<g stroke="#dd2a2a" stroke-width="1.75"><use href="#gG" x="87.50" y="556.24"/><use href="#gA" x="101.33" y="556.24"/><use href="#gU" x="115.16" y="556.24"/><use href="#gC" x="128.99" y="556.24"/><use href="#gC" x="142.82" y="556.24"/><use href="#gU" x="156.65" y="556.24"/><use href="#gA" x="170.48" y="556.24"/><use href="#gC" x="336.44" y="556.24"/><use href="#gA" x="350.27" y="556.24"/><use href="#gU" x="364.10" y="556.24"/><use href="#gU" x="377.93" y="556.24"/><use href="#gA" x="391.76" y="556.24"/><use href="#gA" x="405.59" y="556.24"/><use href="#gC" x="419.42" y="556.24"/><use href="#gU" x="433.25" y="556.24"/><use href="#gU" x="447.08" y="556.24"/><use href="#gG" x="460.91" y="556.24"/><use href="#gU" x="668.36" y="556.24"/><use href="#gA" x="682.19" y="556.24"/><use href="#gG" x="696.02" y="556.24"/><use href="#gU" x="709.85" y="556.24"/><use href="#gU" x="723.68" y="556.24"/></g>
<g stroke="#111" stroke-width="1.75"><use href="#gC" x="184.31" y="556.24"/><use href="#gU" x="198.14" y="556.24"/><use href="#gG" x="211.97" y="556.24"/><use href="#gA" x="225.80" y="556.24"/><use href="#gU" x="239.63" y="556.24"/><use href="#gG" x="253.46" y="556.24"/><use href="#gU" x="267.29" y="556.24"/><use href="#gC" x="281.12" y="556.24"/><use href="#gG" x="294.95" y="556.24"/><use href="#gG" x="308.78" y="556.24"/><use href="#gU" x="322.61" y="556.24"/><use href="#gD" x="474.74" y="556.24"/><use href="#gD" x="488.57" y="556.24"/><use href="#gD" x="502.40" y="556.24"/><use href="#gD" x="516.23" y="556.24"/><use href="#gD" x="530.06" y="556.24"/><use href="#gU" x="543.89" y="556.24"/><use href="#gC" x="557.72" y="556.24"/><use href="#gC" x="571.55" y="556.24"/><use href="#gU" x="585.38" y="556.24"/><use href="#gG" x="599.21" y="556.24"/><use href="#gC" x="613.04" y="556.24"/><use href="#gC" x="626.87" y="556.24"/><use href="#gA" x="640.70" y="556.24"/><use href="#gG" x="654.53" y="556.24"/></g>
<g stroke="#dd2a2a" stroke-width="1.75"><use href="#gG" x="87.50" y="573.41"/><use href="#gA" x="101.33" y="573.41"/><use href="#gU" x="115.16" y="573.41"/><use href="#gC" x="128.99" y="573.41"/><use href="#gC" x="142.82" y="573.41"/><use href="#gC" x="156.65" y="573.41"/><use href="#gA" x="170.48" y="573.41"/><use href="#gC" x="336.44" y="573.41"/><use href="#gA" x="350.27" y="573.41"/><use href="#gU" x="364.10" y="573.41"/><use href="#gU" x="377.93" y="573.41"/><use href="#gA" x="391.76" y="573.41"/><use href="#gA" x="405.59" y="573.41"/><use href="#gC" x="419.42" y="573.41"/><use href="#gU" x="433.25" y="573.41"/><use href="#gU" x="447.08" y="573.41"/><use href="#gG" x="460.91" y="573.41"/><use href="#gU" x="668.36" y="573.41"/><use href="#gG" x="682.19" y="573.41"/><use href="#gG" x="696.02" y="573.41"/><use href="#gU" x="709.85" y="573.41"/><use href="#gU" x="723.68" y="573.41"/></g>
<g stroke="#111" stroke-width="1.75"><use href="#gU" x="184.31" y="573.41"/><use href="#gG" x="198.14" y="573.41"/><use href="#gG" x="211.97" y="573.41"/><use href="#gA" x="225.80" y="573.41"/><use href="#gU" x="239.63" y="573.41"/><use href="#gG" x="253.46" y="573.41"/><use href="#gG" x="267.29" y="573.41"/><use href="#gC" x="281.12" y="573.41"/><use href="#gG" x="294.95" y="573.41"/><use href="#gG" x="308.78" y="573.41"/><use href="#gC" x="322.61" y="573.41"/><use href="#gD" x="474.74" y="573.41"/><use href="#gD" x="488.57" y="573.41"/><use href="#gD" x="502.40" y="573.41"/><use href="#gD" x="516.23" y="573.41"/><use href="#gD" x="530.06" y="573.41"/><use href="#gC" x="543.89" y="573.41"/><use href="#gC" x="557.72" y="573.41"/><use href="#gC" x="571.55" y="573.41"/><use href="#gU" x="585.38" y="573.41"/><use href="#gG" x="599.21" y="573.41"/><use href="#gC" x="613.04" y="573.41"/><use href="#gC" x="626.87" y="573.41"/><use href="#gC" x="640.70" y="573.41"/><use href="#gA" x="654.53" y="573.41"/></g>
<g stroke="#dd2a2a" stroke-width="1.75"><use href="#gG" x="87.50" y="590.58"/><use href="#gA" x="101.33" y="590.58"/><use href="#gU" x="115.16" y="590.58"/><use href="#gC" x="128.99" y="590.58"/><use href="#gC" x="142.82" y="590.58"/><use href="#gC" x="156.65" y="590.58"/><use href="#gA" x="170.48" y="590.58"/><use href="#gC" x="336.44" y="590.58"/><use href="#gA" x="350.27" y="590.58"/><use href="#gU" x="364.10" y="590.58"/><use href="#gU" x="377.93" y="590.58"/><use href="#gA" x="391.76" y="590.58"/><use href="#gA" x="405.59" y="590.58"/><use href="#gU" x="433.25" y="590.58"/><use href="#gG" x="460.91" y="590.58"/><use href="#gU" x="668.36" y="590.58"/><use href="#gG" x="682.19" y="590.58"/><use href="#gG" x="696.02" y="590.58"/><use href="#gU" x="709.85" y="590.58"/><use href="#gU" x="723.68" y="590.58"/></g>
<g stroke="#111" stroke-width="1.75"><use href="#gU" x="184.31" y="590.58"/><use href="#gU" x="198.14" y="590.58"/><use href="#gG" x="211.97" y="590.58"/><use href="#gA" x="225.80" y="590.58"/><use href="#gU" x="239.63" y="590.58"/><use href="#gG" x="253.46" y="590.58"/><use href="#gU" x="267.29" y="590.58"/><use href="#gC" x="281.12" y="590.58"/><use href="#gG" x="294.95" y="590.58"/><use href="#gG" x="308.78" y="590.58"/><use href="#gU" x="322.61" y="590.58"/><use href="#gA" x="419.42" y="590.58"/><use href="#gC" x="447.08" y="590.58"/><use href="#gD" x="474.74" y="590.58"/><use href="#gD" x="488.57" y="590.58"/><use href="#gD" x="502.40" y="590.58"/><use href="#gD" x="516.23" y="590.58"/><use href="#gD" x="530.06" y="590.58"/><use href="#gA" x="543.89" y="590.58"/><use href="#gU" x="557.72" y="590.58"/><use href="#gC" x="571.55" y="590.58"/><use href="#gU" x="585.38" y="590.58"/><use href="#gG" x="599.21" y="590.58"/><use href="#gC" x="613.04" y="590.58"/><use href="#gC" x="626.87" y="590.58"/><use href="#gA" x="640.70" y="590.58"/><use href="#gA" x="654.53" y="590.58"/></g>
<g stroke="#dd2a2a" stroke-width="1.35"><use href="#gG" x="87.50" y="624.92"/><use href="#gA" x="101.33" y="624.92"/><use href="#gU" x="115.16" y="624.92"/><use href="#gC" x="128.99" y="624.92"/><use href="#gC" x="142.82" y="624.92"/><use href="#gC" x="156.65" y="624.92"/><use href="#gA" x="170.48" y="624.92"/><use href="#gC" x="336.44" y="624.92"/><use href="#gA" x="350.27" y="624.92"/><use href="#gU" x="364.10" y="624.92"/><use href="#gU" x="377.93" y="624.92"/><use href="#gA" x="391.76" y="624.92"/><use href="#gA" x="405.59" y="624.92"/><use href="#gC" x="419.42" y="624.92"/><use href="#gU" x="433.25" y="624.92"/><use href="#gU" x="447.08" y="624.92"/><use href="#gG" x="460.91" y="624.92"/><use href="#gU" x="668.36" y="624.92"/><use href="#gG" x="682.19" y="624.92"/><use href="#gG" x="696.02" y="624.92"/><use href="#gU" x="709.85" y="624.92"/><use href="#gU" x="723.68" y="624.92"/></g>
<g stroke="#dd2a2a" stroke-width="1.35"><use href="#gC" x="115.16" y="642.09"/><use href="#gU" x="156.65" y="642.09"/><use href="#gU" x="350.27" y="642.09"/><use href="#gA" x="447.08" y="642.09"/><use href="#gA" x="460.91" y="642.09"/><use href="#gA" x="682.19" y="642.09"/></g>
<text class="t" x="5.38" y="350.40" font-size="14.68" textLength="33.85" lengthAdjust="spacingAndGlyphs" fill="#000" stroke="#000" stroke-width="0.20">OPMV</text>
<text class="t" x="5.47" y="367.57" font-size="14.68" textLength="38.26" lengthAdjust="spacingAndGlyphs" fill="#000" stroke="#000" stroke-width="0.20">ETBTV</text>
<text class="t" x="5.37" y="384.74" font-size="14.68" textLength="30.06" lengthAdjust="spacingAndGlyphs" fill="#000" stroke="#000" stroke-width="0.20">TBTV</text>
<text class="t" x="5.47" y="401.91" font-size="14.68" textLength="48.36" lengthAdjust="spacingAndGlyphs" fill="#000" stroke="#000" stroke-width="0.20">PaMMoV</text>
<text class="t" x="5.37" y="419.08" font-size="14.68" textLength="25.21" lengthAdjust="spacingAndGlyphs" fill="#000" stroke="#000" stroke-width="0.20">GRV</text>
<text class="t" x="5.49" y="436.25" font-size="14.68" textLength="26.59" lengthAdjust="spacingAndGlyphs" fill="#000" stroke="#000" stroke-width="0.20">PiUV</text>
<text class="t" x="5.47" y="453.42" font-size="14.68" textLength="48.75" lengthAdjust="spacingAndGlyphs" fill="#000" stroke="#000" stroke-width="0.20">IxYMoV2</text>
<text class="t" x="5.77" y="470.59" font-size="14.68" textLength="69.90" lengthAdjust="spacingAndGlyphs" fill="#000" stroke="#000" stroke-width="0.20">Changjiang3</text>
<text class="t" x="5.49" y="487.76" font-size="14.68" textLength="38.33" lengthAdjust="spacingAndGlyphs" fill="#000" stroke="#000" stroke-width="0.20">PSCYV</text>
<text class="t" x="5.47" y="522.10" font-size="14.68" textLength="39.75" lengthAdjust="spacingAndGlyphs" fill="#000" stroke="#000" stroke-width="0.20">PEMV2</text>
<text class="t" x="5.47" y="539.27" font-size="14.68" textLength="32.96" lengthAdjust="spacingAndGlyphs" fill="#000" stroke="#000" stroke-width="0.20">RCUV</text>
<text class="t" x="5.28" y="556.44" font-size="14.68" textLength="42.69" lengthAdjust="spacingAndGlyphs" fill="#000" stroke="#000" stroke-width="0.20">PasUV1</text>
<text class="t" x="5.57" y="573.61" font-size="14.68" textLength="42.56" lengthAdjust="spacingAndGlyphs" fill="#000" stroke="#000" stroke-width="0.20">CMoMV</text>
<text class="t" x="5.57" y="590.78" font-size="14.68" textLength="33.06" lengthAdjust="spacingAndGlyphs" fill="#000" stroke="#000" stroke-width="0.20">CMoV</text>
<text class="t" x="143.37" y="329.85" font-size="15.99" textLength="74.19" lengthAdjust="spacingAndGlyphs" fill="#000" stroke="#000" stroke-width="0.20">Lower Stem</text>
<text class="t" x="362.18" y="328.25" font-size="15.70" textLength="74.61" lengthAdjust="spacingAndGlyphs" fill="#000" stroke="#000" stroke-width="0.20">Apical Loop</text>
<text class="t" x="624.98" y="330.15" font-size="15.70" textLength="74.08" lengthAdjust="spacingAndGlyphs" fill="#000" stroke="#000" stroke-width="0.20">Lower Stem</text>
<text class="t" transform="rotate(-90)" x="-456.59" y="762.00" font-size="18.60" textLength="83.87" lengthAdjust="spacingAndGlyphs" fill="#000" stroke="#000" stroke-width="0.3">BTE  3’CITE</text>
<text class="t" transform="rotate(-90)" x="-573.13" y="760.80" font-size="17.15" textLength="44.69" lengthAdjust="spacingAndGlyphs" fill="#000" stroke="#000" stroke-width="0.3">3’CITE</text>
<text class="t" transform="rotate(-90)" x="-573.52" y="782.43" font-size="16.60" textLength="46.05" lengthAdjust="spacingAndGlyphs" fill="#000" stroke="#000" stroke-width="0.3">(other)</text>
<rect x="738.4" y="341.7" width="33.8" height="144.6" fill="none" stroke="#000" stroke-width="1.6"/>
<rect x="737.3" y="512.9" width="56.4" height="75.8" fill="none" stroke="#000" stroke-width="1.6"/>
<rect x="799" y="0" width="1" height="654" fill="#111"/>
</svg>
</body></html>
